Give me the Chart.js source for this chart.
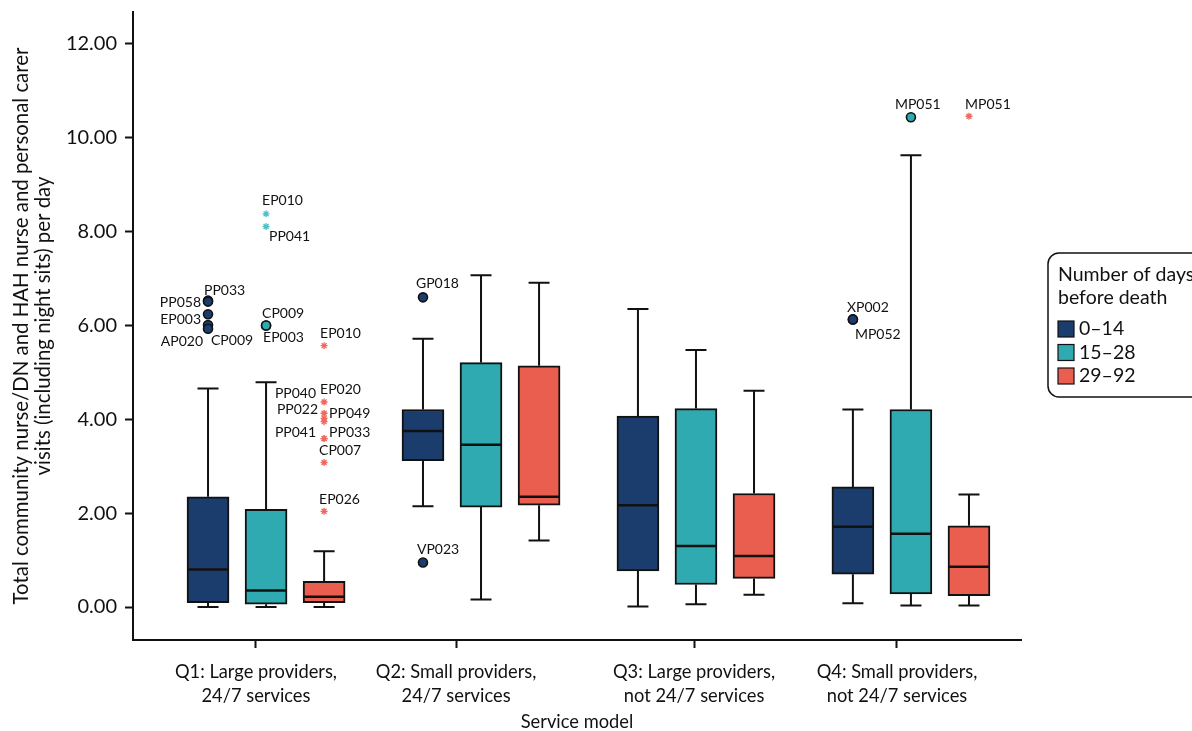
<!DOCTYPE html>
<html>
<head>
<meta charset="utf-8">
<script src="https://cdn.jsdelivr.net/npm/chart.js@4.4.1/dist/chart.umd.min.js"></script>
<style>
  html, body { margin: 0; padding: 0; background: #fff; }
  #wrap { width: 1192px; height: 731px; }
</style>
</head>
<body>
<div id="wrap"><canvas id="boxChart" width="1192" height="731"></canvas></div>
<script>
// x axis groups (service model)
const groupLabels = [
  ["Q1: Large providers,", "24/7 services"],
  ["Q2: Small providers,", "24/7 services"],
  ["Q3: Large providers,", "not 24/7 services"],
  ["Q4: Small providers,", "not 24/7 services"]
];
const seriesNames = ["0–14", "15–28", "29–92"];

// box stats, one row per series (0-14, 15-28, 29-92), one value per group
const whiskerLow  = [[0.00, 2.15, 0.01, 0.08], [0.00, 0.16, 0.06, 0.03], [0.00, 1.42, 0.26, 0.03]];
const boxLow      = [[0.09, 3.12, 0.77, 0.70], [0.06, 2.13, 0.48, 0.28], [0.09, 2.17, 0.61, 0.24]];
const medians     = [[0.80, 3.75, 2.17, 1.71], [0.35, 3.46, 1.30, 1.56], [0.22, 2.35, 1.09, 0.86]];
const boxHigh     = [[2.35, 4.21, 4.07, 2.56], [2.08, 5.21, 4.23, 4.21], [0.55, 5.14, 2.42, 1.73]];
const whiskerHigh = [[4.66, 5.72, 6.35, 4.21], [4.79, 7.07, 5.48, 9.63], [1.19, 6.91, 4.61, 2.40]];

// outliers: o = outlier, * = extreme
const outGroup  = [0, 0, 0, 0, 0, 0, 0, 0, 0, 0, 0, 0, 0, 0, 0, 0, 0, 0, 1, 1, 3, 3, 3, 3];
const outSeries = [0, 0, 0, 0, 0, 1, 1, 1, 1, 2, 2, 2, 2, 2, 2, 2, 2, 2, 0, 0, 0, 0, 1, 2];
const outValue  = [6.53, 6.51, 6.24, 6.01, 5.93, 8.38, 8.11, 6.00, 6.00, 5.57, 4.37, 4.13, 4.02, 3.95, 3.59, 3.59, 3.08, 2.04, 6.60, 0.95, 6.13, 6.13, 10.44, 10.46];
const outId     = ["PP033", "PP058", "EP003", "AP020", "CP009", "EP010", "PP041", "CP009", "EP003", "EP010", "EP020", "PP040", "PP022", "PP049", "PP041", "PP033", "CP007", "EP026", "GP018", "VP023", "XP002", "MP052", "MP051", "MP051"];
const outKind   = ["o", "o", "o", "o", "o", "*", "*", "o", "o", "*", "*", "*", "*", "*", "*", "*", "*", "*", "o", "o", "o", "o", "o", "*"];

const yTicks = [0, 2, 4, 6, 8, 10, 12];

// styling
const boxColors = ['#1b3d6e', '#2eaab0', '#ea5e50'];
const starColors = ['#1b3d6e', '#4dbfc7', '#f0675d'];
const seriesOffset = [-0.27, 0, 0.27];
const groupTickAt = [-0.047, 0.884, 1.991, 2.935];
const FONT = 'Lato, "Open Sans", sans-serif';
const INK = '#111';

// label placement next to each outlier: [dx, dy, align]
const labelPlace = [
  [-4, -10, 'left'], [-7, 1, 'right'], [-7, 5, 'right'], [-5, 16, 'right'], [3, 12, 'left'],
  [-4, -13, 'left'], [3, 10, 'left'], [-4, -12, 'left'], [-3, 12, 'left'],
  [-4, -12, 'left'], [-4, -12, 'left'], [-8, -20, 'right'], [-6, -9, 'right'], [5, -8, 'left'],
  [-8, -6, 'right'], [5, -6, 'left'], [-5, -12, 'left'], [-5, -12, 'left'],
  [-7, -14, 'left'], [-6, -13, 'left'], [-6, -12, 'left'], [2, 15, 'left'], [-16, -13, 'left'], [-4, -12, 'left']
];

function xPos(g, s) {
  return g + seriesOffset[s];
}

let datasets = [];

// boxes as floating bars
seriesNames.forEach((name, s) => {
  datasets.push({
    type: 'bar',
    label: name,
    data: groupLabels.map((g, i) => ({ x: xPos(i, s), y: [boxLow[s][i], boxHigh[s][i]] })),
    backgroundColor: boxColors[s],
    borderColor: INK,
    borderWidth: 2,
    borderSkipped: false,
    barThickness: 42,
    grouped: false,
    order: 2
  });
});

// outlier points
seriesNames.forEach((name, s) => {
  ['o', '*'].forEach(kind => {
    let pts = [];
    outValue.forEach((v, k) => {
      if (outSeries[k] == s && outKind[k] == kind) {
        pts.push({ x: xPos(outGroup[k], s), y: v });
      }
    });
    if (!pts.length) return;
    datasets.push({
      type: 'scatter',
      label: name + kind,
      data: pts,
      pointStyle: kind == 'o' ? 'circle' : 'star',
      pointRadius: kind == 'o' ? 4.5 : 3.5,
      borderWidth: kind == 'o' ? 1.6 : 1.3,
      backgroundColor: boxColors[s],
      borderColor: kind == 'o' ? INK : starColors[s],
      order: 1
    });
  });
});

const whiskerPlugin = {
  id: 'whiskers',
  beforeDatasetsDraw(chart) {
    const { ctx, scales: { x, y } } = chart;
    ctx.save();
    ctx.strokeStyle = INK;
    ctx.lineWidth = 2;
    seriesNames.forEach((n, s) => {
      groupLabels.forEach((g, i) => {
        const px = x.getPixelForValue(xPos(i, s));
        const lo = y.getPixelForValue(whiskerLow[s][i]);
        const hi = y.getPixelForValue(whiskerHigh[s][i]);
        ctx.beginPath();
        ctx.moveTo(px, lo); ctx.lineTo(px, y.getPixelForValue(boxLow[s][i]));
        ctx.moveTo(px, hi); ctx.lineTo(px, y.getPixelForValue(boxHigh[s][i]));
        ctx.moveTo(px - 10.5, lo); ctx.lineTo(px + 10.5, lo);
        ctx.moveTo(px - 10.5, hi); ctx.lineTo(px + 10.5, hi);
        ctx.stroke();
      });
    });
    ctx.restore();
  },
  afterDatasetsDraw(chart) {
    const { ctx, scales: { x, y } } = chart;
    ctx.save();
    ctx.strokeStyle = INK;
    ctx.lineWidth = 2.5;
    seriesNames.forEach((n, s) => {
      groupLabels.forEach((g, i) => {
        const px = x.getPixelForValue(xPos(i, s));
        const py = y.getPixelForValue(medians[s][i]);
        ctx.beginPath();
        ctx.moveTo(px - 20, py); ctx.lineTo(px + 20, py);
        ctx.stroke();
      });
    });
    // outlier ids
    ctx.fillStyle = INK;
    ctx.font = '14px ' + FONT;
    ctx.textBaseline = 'middle';
    outId.forEach((id, k) => {
      const px = x.getPixelForValue(xPos(outGroup[k], outSeries[k]));
      const py = y.getPixelForValue(outValue[k]);
      const p = labelPlace[k];
      ctx.textAlign = p[2];
      ctx.fillText(id, px + p[0], py + p[1]);
    });
    ctx.restore();
  }
};

const legendPlugin = {
  id: 'boxLegend',
  afterDraw(chart) {
    const ctx = chart.ctx;
    const left = 1048, top = 253, w = 170, h = 144, r = 11;
    ctx.save();
    ctx.strokeStyle = INK;
    ctx.lineWidth = 1.5;
    ctx.beginPath();
    ctx.roundRect(left, top, w, h, r);
    ctx.stroke();
    ctx.fillStyle = INK;
    ctx.font = '19.5px ' + FONT;
    ctx.textAlign = 'left';
    ctx.textBaseline = 'middle';
    ctx.fillText('Number of days', left + 10, top + 22);
    ctx.fillText('before death', left + 10, top + 45);
    seriesNames.forEach((name, s) => {
      const cy = top + 76 + s * 23.5;
      ctx.fillStyle = boxColors[s];
      ctx.fillRect(left + 10, cy - 8, 16, 16);
      ctx.lineWidth = 1.2;
      ctx.strokeRect(left + 10, cy - 8, 16, 16);
      ctx.fillStyle = INK;
      ctx.fillText(name, left + 31, cy);
    });
    ctx.restore();
  }
};

new Chart(document.getElementById('boxChart'), {
  type: 'bar',
  data: { datasets: datasets },
  options: {
    responsive: false,
    animation: false,
    layout: { padding: { left: 10, top: 12, right: 171, bottom: 0 } },
    plugins: { legend: { display: false }, tooltip: { enabled: false } },
    scales: {
      x: {
        type: 'linear',
        min: -0.619,
        max: 3.512,
        offset: false,
        afterFit: (s) => { s.height = 91; s.paddingLeft = 0; s.paddingRight = 0; },
        afterBuildTicks: (axis) => { axis.ticks = groupTickAt.map(v => ({ value: v })); },
        grid: { display: true, drawOnChartArea: false, drawTicks: true, tickLength: 8, tickWidth: 2, tickColor: INK, offset: false },
        border: { display: true, color: INK, width: 2 },
        ticks: {
          autoSkip: false,
          maxRotation: 0,
          padding: 12,
          color: INK,
          font: { family: FONT, size: 18.3, lineHeight: 1.3 },
          callback: (v, idx) => groupLabels[idx]
        },
        title: { display: true, text: 'Service model', color: INK, font: { family: FONT, size: 18.3, lineHeight: 1.0 }, padding: { top: 0, bottom: 0 } }
      },
      y: {
        min: -0.703,
        max: 12.682,
        afterFit: (s) => { s.width = 123; s.paddingTop = 0; s.paddingBottom = 0; },
        afterBuildTicks: (axis) => { axis.ticks = yTicks.map(v => ({ value: v })); },
        grid: { display: true, drawOnChartArea: false, drawTicks: true, tickLength: 8, tickWidth: 2, tickColor: INK },
        border: { display: true, color: INK, width: 2 },
        ticks: {
          padding: 8,
          color: INK,
          font: { family: FONT, size: 20 },
          callback: (v) => v.toFixed(2)
        },
        title: {
          display: true,
          text: ['Total community nurse/DN and HAH nurse and personal carer', 'visits (including night sits) per day'],
          color: INK,
          font: { family: FONT, size: 20.4, lineHeight: 1.05 },
          padding: { top: 1, bottom: 0 }
        }
      }
    }
  },
  plugins: [whiskerPlugin, legendPlugin]
});
</script>
</body>
</html>
